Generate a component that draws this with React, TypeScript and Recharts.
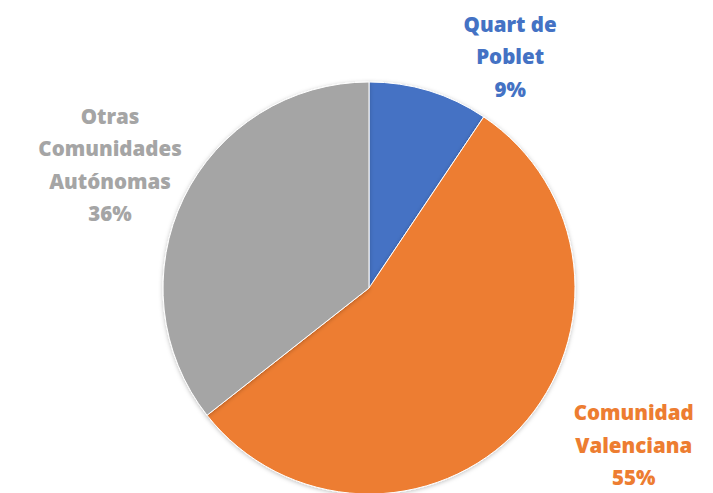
import { PieChart, Pie, Cell } from 'recharts';

const names = ['Quart de Poblet', 'Comunidad Valenciana', 'Otras Comunidades Autónomas'];
const values = [9.4, 55.0, 35.6];
const labelLines = [
  ['Quart de', 'Poblet'],
  ['Comunidad', 'Valenciana'],
  ['Otras', 'Comunidades', 'Autónomas'],
];
const colors = ['#4472C4', '#ED7D31', '#A5A5A5'];

const data = names.map((name, i) => ({ name, value: values[i] }));
const total = values.reduce((a, b) => a + b, 0);

// label centres relative to pie centre, as multiples of the radius
const labelAnchor = [
  { dx: 0.685, dy: -1.125 },
  { dx: 1.285, dy: 0.76 },
  { dx: -1.257, dy: -0.6 },
];

const renderLabel = (props: any) => {
  const { cx, cy, outerRadius, index, value } = props;
  const a = labelAnchor[index];
  const x = cx + a.dx * outerRadius;
  const y = cy + a.dy * outerRadius;
  const lines = [...labelLines[index], `${Math.round((value / total) * 100)}%`];
  const lh = 32.5;
  const top = y - ((lines.length - 1) * lh) / 2;
  return (
    <text
      x={x}
      y={top}
      textAnchor="middle"
      dominantBaseline="central"
      fill={colors[index]}
      style={{ fontFamily: 'Open Sans, sans-serif', fontWeight: 800, fontSize: 20.5 }}
    >
      {lines.map((l, i) => (
        <tspan key={i} x={x} dy={i === 0 ? 0 : lh}>
          {l}
        </tspan>
      ))}
    </text>
  );
};

export default function App() {
  return (
    <div style={{ position: 'absolute', top: 0, left: 0, width: 713, height: 493, background: '#fff' }}>
      <PieChart width={713} height={493}>
        <defs>
          <filter id="pieShadow" x="-10%" y="-10%" width="120%" height="120%">
            <feDropShadow dx="0" dy="1" stdDeviation="2" floodColor="#000" floodOpacity="0.25" />
          </filter>
        </defs>
        <Pie
          data={data}
          dataKey="value"
          nameKey="name"
          cx={364}
          cy={283}
          outerRadius={206}
          startAngle={90}
          endAngle={-270}
          stroke="#fff"
          strokeWidth={1}
          label={renderLabel}
          labelLine={false}
          isAnimationActive={false}
          style={{ filter: 'url(#pieShadow)' }}
        >
          {data.map((d, i) => (
            <Cell key={d.name} fill={colors[i]} />
          ))}
        </Pie>
      </PieChart>
    </div>
  );
}
